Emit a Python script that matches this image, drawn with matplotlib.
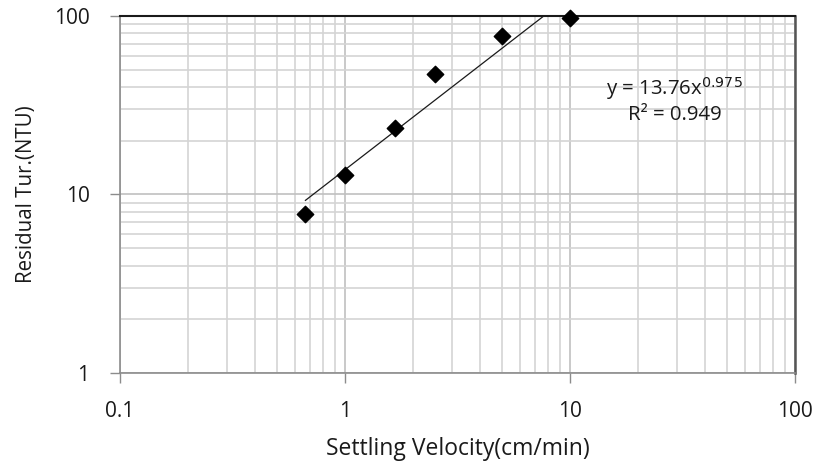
import matplotlib
matplotlib.use("Agg")
import matplotlib.pyplot as plt
from matplotlib.ticker import FixedLocator, FixedFormatter, LogLocator, NullFormatter
import numpy as np

plt.rcParams['font.family'] = ['Open Sans', 'DejaVu Sans']

# Data
velocity = [0.667, 1.0, 1.667, 2.5, 5.0, 10.0]
turbidity = [7.8, 12.9, 23.6, 47.5, 77.0, 98.0]
fit_a = 13.76
fit_b = 0.975
fit_r2 = 0.949
x_ticks = [0.1, 1, 10, 100]
x_labels = ["0.1", "1", "10", "100"]
y_ticks = [1, 10, 100]
y_labels = ["1", "10", "100"]

fig = plt.figure(figsize=(8.14, 4.61), dpi=100)
ax = fig.add_axes([120/814, 88/461, 675/814, 357/461])

ax.set_xscale('log')
ax.set_yscale('log')
ax.set_xlim(0.1, 100)
ax.set_ylim(1, 100)

# grid
ax.grid(True, which='minor', color='#d4d4d4', linewidth=1.2)
ax.grid(True, which='major', color='#c0c0c0', linewidth=1.2)
ax.set_axisbelow(True)

# trendline
xf = np.logspace(np.log10(min(velocity)), np.log10(max(velocity)), 200)
ax.plot(xf, fit_a * xf ** fit_b, color='#1a1a1a', linewidth=0.9, zorder=3)

# data points
ax.scatter(velocity, turbidity, marker='D', s=70, color='black', zorder=4, clip_on=False)

ax.xaxis.set_major_locator(FixedLocator(x_ticks))
ax.xaxis.set_major_formatter(FixedFormatter(x_labels))
ax.yaxis.set_major_locator(FixedLocator(y_ticks))
ax.yaxis.set_major_formatter(FixedFormatter(y_labels))
ax.xaxis.set_minor_locator(LogLocator(base=10, subs=np.arange(2, 10)))
ax.yaxis.set_minor_locator(LogLocator(base=10, subs=np.arange(2, 10)))
ax.xaxis.set_minor_formatter(NullFormatter())
ax.yaxis.set_minor_formatter(NullFormatter())

ax.tick_params(which='major', length=7, width=1, color='#8c8c8c', labelsize=15,
               labelcolor='#1a1a1a')
ax.tick_params(axis='x', which='major', pad=13)
ax.tick_params(axis='y', which='major', pad=15)
ax.tick_params(which='minor', length=0)

for s in ['left', 'bottom']:
    ax.spines[s].set_color('#8c8c8c')
    ax.spines[s].set_linewidth(1.2)
ax.spines['top'].set_color('#1a1a1a')
ax.spines['top'].set_linewidth(1.5)
ax.spines['right'].set_color('#555555')
ax.spines['right'].set_linewidth(1.8)

ax.set_xlabel('Settling Velocity(cm/min)', fontsize=16.5, color='#1a1a1a', labelpad=11)
ax.set_ylabel('Residual Tur.(NTU)', fontsize=14.8, color='#1a1a1a', labelpad=12)

ax.text(0.822, 0.798, r'y = 13.76x$^{0.975}$', transform=ax.transAxes,
        ha='center', va='center', fontsize=14.7, color='#1a1a1a')
ax.text(0.822, 0.723, 'R² = 0.949', transform=ax.transAxes,
        ha='center', va='center', fontsize=14.7, color='#1a1a1a')

fig.savefig('out.png', dpi=100)
